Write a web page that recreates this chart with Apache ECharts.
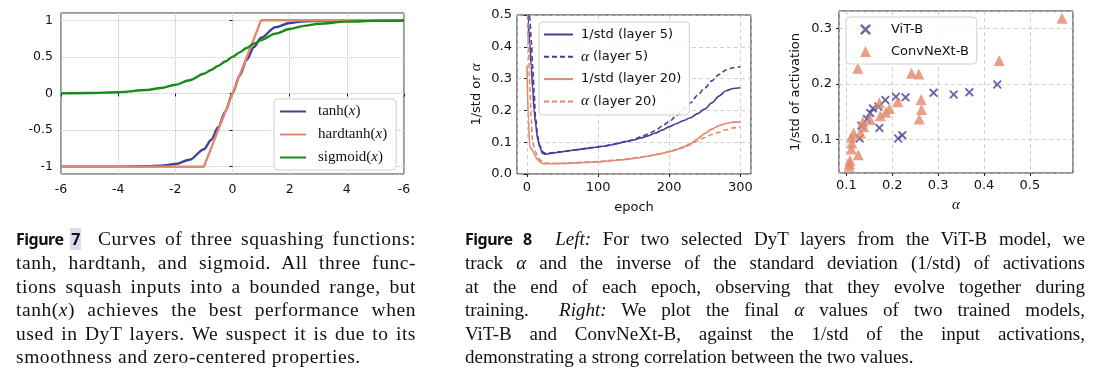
<!DOCTYPE html>
<html>
<head>
<meta charset="utf-8">
<script src="https://cdn.jsdelivr.net/npm/echarts@6/dist/echarts.min.js"></script>
<style>
body { margin: 0; background: #fff; }
#chart { position: absolute; left: 0; top: 0; width: 1097px; height: 375px; }
.cap { position: absolute; font-family: "Liberation Serif", serif; line-height: 23.4px; color: #111; }
.cap div { text-align: justify; text-align-last: justify; }
.cap div.last { text-align-last: left; }
.c7 { font-size: 19.5px; letter-spacing: 0.55px; }
.c8 { font-size: 19px; letter-spacing: 0px; }
.fig { font-family: "Noto Sans", sans-serif; font-weight: 700; font-size: 16px; letter-spacing: -0.5px; }
.hl { background: #d8daf0; padding: 0 1px; }
</style>
</head>
<body>
<div id="chart"></div>

<div class="cap c7" style="left:16px; top:227px; width:400px;">
  <div><span class="fig">Figure <span class="hl">7</span></span>&nbsp; Curves of three squashing functions:</div>
  <div>tanh, hardtanh, and sigmoid. All three func-</div>
  <div>tions squash inputs into a bounded range, but</div>
  <div>tanh(<i>x</i>) achieves the best performance when</div>
  <div>used in DyT layers. We suspect it is due to its</div>
  <div class="last">smoothness and zero-centered properties.</div>
</div>

<div class="cap c8" style="left:465px; top:227px; width:620px;">
  <div><span class="fig">Figure 8</span>&nbsp; <i>Left:</i> For two selected DyT layers from the ViT-B model, we</div>
  <div>track <i>α</i> and the inverse of the standard deviation (1/std) of activations</div>
  <div>at the end of each epoch, observing that they evolve together during</div>
  <div>training. &nbsp;<i>Right:</i> We plot the final <i>α</i> values of two trained models,</div>
  <div>ViT-B and ConvNeXt-B, against the 1/std of the input activations,</div>
  <div class="last">demonstrating a strong correlation between the two values.</div>
</div>

<script>
// figure 7: squashing functions
const fx = [-6, -5, -4, -3, -2.5, -2, -1.5, -1, -0.75, -0.5, -0.25, 0, 0.25, 0.5, 0.75, 1, 1.5, 2, 2.5, 3, 4, 5, 6];
const tanhY = [-1.000, -1.000, -0.999, -0.995, -0.987, -0.964, -0.905, -0.762, -0.635, -0.462, -0.245, 0, 0.245, 0.462, 0.635, 0.762, 0.905, 0.964, 0.987, 0.995, 0.999, 1.000, 1.000];
const sigmoidY = [0.002, 0.007, 0.018, 0.047, 0.076, 0.119, 0.182, 0.269, 0.321, 0.378, 0.438, 0.5, 0.562, 0.622, 0.679, 0.731, 0.818, 0.881, 0.924, 0.953, 0.982, 0.993, 0.998];
const hardX = [-6, -1, 1, 6];
const hardY = [-1, -1, 1, 1];
const xTicks1 = [-6, -4, -2, 0, 2, 4, 6];
const xTickLabels1 = ['-6', '-4', '-2', '0', '2', '4', '-6'];

// figure 8 left: 1/std and alpha per epoch
const epochs = [0, 2, 4, 6, 8, 10, 12, 15, 18, 22, 26, 30, 40, 50, 60, 70, 80, 90, 100, 110, 120, 130, 140, 150, 160, 170, 180, 190, 200, 210, 220, 230, 240, 250, 260, 270, 280, 290, 300];
const std5 = [0.90, 0.47, 0.41, 0.34, 0.27, 0.20, 0.16, 0.11, 0.085, 0.065, 0.062, 0.064, 0.067, 0.070, 0.073, 0.076, 0.079, 0.082, 0.085, 0.088, 0.092, 0.097, 0.102, 0.107, 0.113, 0.120, 0.128, 0.138, 0.149, 0.158, 0.168, 0.177, 0.190, 0.204, 0.224, 0.245, 0.262, 0.269, 0.271];
const alpha5 = [1.0, 0.56, 0.49, 0.42, 0.34, 0.26, 0.18, 0.12, 0.09, 0.07, 0.065, 0.066, 0.068, 0.071, 0.074, 0.077, 0.080, 0.083, 0.086, 0.089, 0.093, 0.098, 0.103, 0.108, 0.117, 0.126, 0.136, 0.150, 0.165, 0.183, 0.204, 0.224, 0.248, 0.270, 0.293, 0.313, 0.327, 0.334, 0.337];
const std20 = [0.34, 0.17, 0.085, 0.080, 0.074, 0.065, 0.055, 0.045, 0.038, 0.033, 0.032, 0.032, 0.032, 0.033, 0.034, 0.035, 0.036, 0.037, 0.038, 0.040, 0.042, 0.044, 0.046, 0.049, 0.052, 0.056, 0.060, 0.065, 0.070, 0.077, 0.085, 0.096, 0.111, 0.127, 0.141, 0.152, 0.159, 0.163, 0.164];
const alpha20 = [0.60, 0.40, 0.28, 0.17, 0.10, 0.085, 0.07, 0.055, 0.045, 0.038, 0.035, 0.034, 0.034, 0.034, 0.035, 0.036, 0.037, 0.038, 0.039, 0.041, 0.043, 0.045, 0.047, 0.050, 0.053, 0.057, 0.061, 0.065, 0.070, 0.076, 0.083, 0.092, 0.104, 0.115, 0.124, 0.131, 0.139, 0.145, 0.148];

// figure 8 right: final alpha vs 1/std
const vitAlpha = [0.129, 0.133, 0.145, 0.152, 0.158, 0.170, 0.172, 0.185, 0.208, 0.213, 0.222, 0.229, 0.290, 0.334, 0.368, 0.429];
const vitStd = [0.102, 0.125, 0.137, 0.148, 0.156, 0.159, 0.121, 0.171, 0.177, 0.102, 0.108, 0.176, 0.184, 0.181, 0.185, 0.199];
const convAlpha = [0.106, 0.107, 0.108, 0.126, 0.111, 0.112, 0.111, 0.116, 0.131, 0.138, 0.136, 0.152, 0.174, 0.186, 0.194, 0.172, 0.212, 0.125, 0.242, 0.258, 0.263, 0.264, 0.259, 0.433, 0.570];
const convStd = [0.052, 0.057, 0.063, 0.073, 0.083, 0.094, 0.104, 0.112, 0.112, 0.123, 0.132, 0.136, 0.143, 0.149, 0.156, 0.166, 0.168, 0.228, 0.219, 0.218, 0.172, 0.154, 0.137, 0.242, 0.318];

const purple = '#473f96', orange = '#e2896a', green = '#1a8a1a';
const ink = '#111';
const sans = 'DejaVu Sans';
const serif = 'Liberation Serif';
const pairs = (xs, ys) => xs.map((x, i) => [x, ys[i]]);
const crossPath = 'path://M1.5,0L5,3.5L8.5,0L10,1.5L6.5,5L10,8.5L8.5,10L5,6.5L1.5,10L0,8.5L3.5,5L0,1.5Z';
const alphaRich = { a: { fontFamily: serif, fontStyle: 'italic', fontSize: 15, color: ink } };

function valAxis(grid, extra) {
    return Object.assign({
        gridIndex: grid,
        type: 'value',
        axisLine: { show: false },
        axisTick: { show: true, length: 3, lineStyle: { color: '#222' } },
        axisLabel: { color: ink, fontFamily: sans, fontSize: 13, margin: 6 },
        splitLine: { show: true, lineStyle: { color: '#c4c4c4', type: [4, 3], width: 0.8 } }
    }, extra);
}

const chart = echarts.init(document.getElementById('chart'));

const option = {
    animation: false,
    grid: [
        { left: 61, top: 13, width: 343, height: 161, show: true, borderColor: '#333', borderWidth: 1 },
        { left: 517, top: 15, width: 234, height: 159, show: true, borderColor: '#222', borderWidth: 1 },
        { left: 839, top: 11, width: 234, height: 162, show: true, borderColor: '#222', borderWidth: 1 }
    ],
    xAxis: [
        valAxis(0, {
            min: -6, max: 6, interval: 2,
            axisLabel: { color: ink, fontFamily: sans, fontSize: 12.5, margin: 9,
                formatter: v => { const i = xTicks1.indexOf(v); return i < 0 ? '' : xTickLabels1[i]; } },
            splitLine: { show: true, lineStyle: { color: '#c4c4c4', type: 'dotted', width: 1 } }
        }),
        valAxis(1, {
            min: -14, max: 315, minInterval: 100, maxInterval: 100,
            axisLabel: { color: ink, fontFamily: sans, fontSize: 13, margin: 7, showMinLabel: false, showMaxLabel: false },
            name: 'epoch', nameLocation: 'middle', nameGap: 27,
            nameTextStyle: { color: ink, fontFamily: sans, fontSize: 13 }
        }),
        valAxis(2, {
            min: 0.084, max: 0.594, minInterval: 0.1, maxInterval: 0.1,
            axisLabel: { color: ink, fontFamily: sans, fontSize: 13, margin: 6, showMinLabel: false, showMaxLabel: false,
                formatter: v => v.toFixed(1) },
            name: 'α', nameLocation: 'middle', nameGap: 25,
            nameTextStyle: { color: ink, fontFamily: serif, fontStyle: 'italic', fontSize: 15 }
        })
    ],
    yAxis: [
        valAxis(0, {
            min: -1.1, max: 1.1, minInterval: 0.5, maxInterval: 0.5,
            axisLabel: { color: ink, fontFamily: sans, fontSize: 12.5, margin: 8, showMinLabel: false, showMaxLabel: false },
            splitLine: { show: true, lineStyle: { color: '#c4c4c4', type: 'dotted', width: 1 } }
        }),
        valAxis(1, {
            min: 0, max: 0.5, interval: 0.1,
            axisLabel: { color: ink, fontFamily: sans, fontSize: 13, margin: 5, formatter: v => v.toFixed(1) },
            name: '1/std or {a|α}', nameLocation: 'middle', nameGap: 33,
            nameTextStyle: { color: ink, fontFamily: sans, fontSize: 13, rich: alphaRich }
        }),
        valAxis(2, {
            min: 0.040, max: 0.331, minInterval: 0.1, maxInterval: 0.1,
            axisLabel: { color: ink, fontFamily: sans, fontSize: 13, margin: 7, showMinLabel: false, showMaxLabel: false,
                formatter: v => v.toFixed(1) },
            name: '1/std of activation', nameLocation: 'middle', nameGap: 37,
            nameTextStyle: { color: ink, fontFamily: sans, fontSize: 13 }
        })
    ],
    legend: [
        {
            data: ['tanh(x)', 'hardtanh(x)', 'sigmoid(x)'],
            orient: 'vertical', left: 274, top: 99,
            itemWidth: 26, itemHeight: 14, itemGap: 8,
            padding: [5, 9, 5, 5],
            backgroundColor: '#fff', borderColor: '#cfcfcf', borderWidth: 1, borderRadius: 4,
            selectedMode: false,
            itemStyle: { opacity: 0 },
            formatter: n => n.replace('(x)', '({i|x})'),
            textStyle: { color: ink, fontFamily: serif, fontSize: 15, padding: [0, 0, 0, 7],
                rich: { i: { fontFamily: serif, fontStyle: 'italic', fontSize: 15, color: ink } } }
        },
        {
            data: ['1/std (layer 5)', 'α (layer 5)', '1/std (layer 20)', 'α (layer 20)'],
            orient: 'vertical', left: 539, top: 22,
            itemWidth: 29, itemHeight: 12, itemGap: 8.3,
            padding: [6, 8, 6, 4],
            backgroundColor: 'rgba(255,255,255,0.85)', borderColor: '#cfcfcf', borderWidth: 1, borderRadius: 4,
            selectedMode: false,
            itemStyle: { opacity: 0 },
            formatter: n => n.replace('α', '{a|α}'),
            textStyle: { color: ink, fontFamily: sans, fontSize: 13, padding: [0, 0, 0, 3], rich: alphaRich }
        },
        {
            data: ['ViT-B', 'ConvNeXt-B'],
            orient: 'vertical', left: 846, top: 17,
            itemWidth: 11, itemHeight: 11, itemGap: 9,
            padding: [6, 8, 6, 14],
            backgroundColor: 'rgba(255,255,255,0.85)', borderColor: '#cfcfcf', borderWidth: 1, borderRadius: 4,
            selectedMode: false,
            textStyle: { color: ink, fontFamily: sans, fontSize: 13, padding: [0, 0, 0, 15] }
        }
    ],
    series: [
        { name: 'tanh(x)', type: 'line', xAxisIndex: 0, yAxisIndex: 0, data: pairs(fx, tanhY),
          showSymbol: false, symbol: 'none', smooth: 0.3, smoothMonotone: 'x', color: purple, lineStyle: { width: 2.4 } },
        { name: 'hardtanh(x)', type: 'line', xAxisIndex: 0, yAxisIndex: 0, data: pairs(hardX, hardY),
          showSymbol: false, symbol: 'none', color: orange, lineStyle: { width: 2.4 } },
        { name: 'sigmoid(x)', type: 'line', xAxisIndex: 0, yAxisIndex: 0, data: pairs(fx, sigmoidY),
          showSymbol: false, symbol: 'none', smooth: 0.3, smoothMonotone: 'x', color: green, lineStyle: { width: 2.4 } },

        { name: '1/std (layer 5)', type: 'line', xAxisIndex: 1, yAxisIndex: 1, data: pairs(epochs, std5),
          symbol: 'none', smooth: 0.3, smoothMonotone: 'x', color: purple, lineStyle: { width: 1.6 } },
        { name: 'α (layer 5)', type: 'line', xAxisIndex: 1, yAxisIndex: 1, data: pairs(epochs, alpha5),
          symbol: 'none', smooth: 0.3, smoothMonotone: 'x', color: purple, lineStyle: { width: 1.6, type: [5, 3] } },
        { name: '1/std (layer 20)', type: 'line', xAxisIndex: 1, yAxisIndex: 1, data: pairs(epochs, std20),
          symbol: 'none', smooth: 0.3, smoothMonotone: 'x', color: orange, lineStyle: { width: 1.6 } },
        { name: 'α (layer 20)', type: 'line', xAxisIndex: 1, yAxisIndex: 1, data: pairs(epochs, alpha20),
          symbol: 'none', smooth: 0.3, smoothMonotone: 'x', color: orange, lineStyle: { width: 1.6, type: [5, 3] } },

        { name: 'ViT-B', type: 'scatter', xAxisIndex: 2, yAxisIndex: 2, data: pairs(vitAlpha, vitStd),
          symbol: crossPath, symbolSize: 9, itemStyle: { color: purple } },
        { name: 'ConvNeXt-B', type: 'scatter', xAxisIndex: 2, yAxisIndex: 2, data: pairs(convAlpha, convStd),
          symbol: 'triangle', symbolSize: 11, itemStyle: { color: orange } }
    ]
};

chart.setOption(option);
</script>
</body>
</html>
